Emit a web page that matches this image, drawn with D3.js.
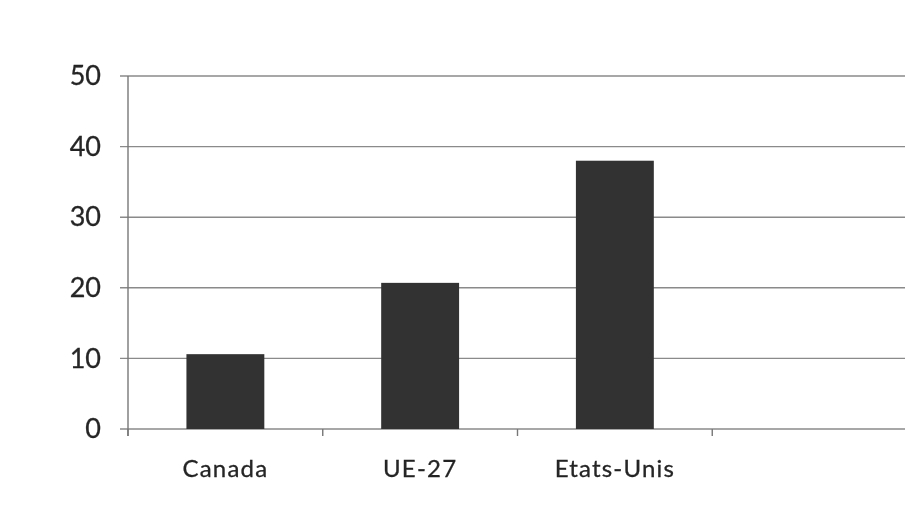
<!DOCTYPE html>
<html>
<head>
<meta charset="utf-8">
<script src="https://cdn.jsdelivr.net/npm/d3@7/dist/d3.min.js"></script>
<style>
  html, body { margin: 0; padding: 0; background: #fff; }
  svg { display: block; }
</style>
</head>
<body>
<svg id="chart" width="905" height="506"></svg>
<script>
// Data
const categories = ["Canada", "UE-27", "Etats-Unis", ""];
const values = [10.6, 20.7, 38.0, null];
const yTicks = [0, 10, 20, 30, 40, 50];

const svg = d3.select("#chart");
const margin = { left: 128, right: -2, top: 76, bottom: 77 };
const W = 905, H = 506;
const font = "Lato, 'Open Sans', sans-serif";

const defs = svg.append("defs");
defs.append("filter").attr("id", "soft")
  .append("feGaussianBlur").attr("stdDeviation", 0.55);

const g = svg.append("g").attr("filter", "url(#soft)");

const x = d3.scaleBand()
  .domain(categories.map((c, i) => i))
  .range([margin.left, W - margin.right])
  .paddingInner(0.6)
  .paddingOuter(0.3);

const y = d3.scaleLinear()
  .domain([0, 50])
  .range([H - margin.bottom, margin.top]);

// Horizontal gridlines
g.append("g")
  .selectAll("line")
  .data(yTicks)
  .join("line")
  .attr("x1", margin.left - 8)
  .attr("x2", W - margin.right)
  .attr("y1", d => y(d))
  .attr("y2", d => y(d))
  .attr("stroke", "#8a8a8a")
  .attr("stroke-width", 1.4);

// Y axis
const yAxis = d3.axisLeft(y).tickValues(yTicks).tickSize(0).tickPadding(27);
const ya = g.append("g").attr("transform", `translate(${margin.left},0)`).call(yAxis);
ya.select(".domain").remove();
ya.selectAll("text")
  .attr("font-family", font)
  .attr("font-size", 27)
  .attr("fill", "#252525")
  .attr("stroke", "#252525")
  .attr("stroke-width", 0.3);

g.append("line")
  .attr("x1", margin.left).attr("x2", margin.left)
  .attr("y1", y(50)).attr("y2", y(0) + 7)
  .attr("stroke", "#777").attr("stroke-width", 1.4);

// X axis ticks at band boundaries
const step = x.step();
const boundaries = d3.range(categories.length + 1).map(i => margin.left + i * step);
g.append("g")
  .selectAll("line")
  .data(boundaries)
  .join("line")
  .attr("x1", d => d).attr("x2", d => d)
  .attr("y1", y(0)).attr("y2", y(0) + 7)
  .attr("stroke", "#777").attr("stroke-width", 1.4);

// Bars
g.append("g")
  .selectAll("rect")
  .data(values.map((v, i) => ({ v, i })).filter(d => d.v !== null))
  .join("rect")
  .attr("x", d => x(d.i))
  .attr("width", x.bandwidth())
  .attr("y", d => y(d.v))
  .attr("height", d => y(0) - y(d.v))
  .attr("fill", "#333");

// Category labels
g.append("g")
  .selectAll("text")
  .data(categories)
  .join("text")
  .attr("x", (d, i) => x(i) + x.bandwidth() / 2)
  .attr("y", 477)
  .attr("text-anchor", "middle")
  .attr("font-family", font)
  .attr("font-size", 24)
  .attr("letter-spacing", 1.2)
  .attr("fill", "#252525")
  .attr("stroke", "#252525")
  .attr("stroke-width", 0.3)
  .text(d => d);
</script>
</body>
</html>
